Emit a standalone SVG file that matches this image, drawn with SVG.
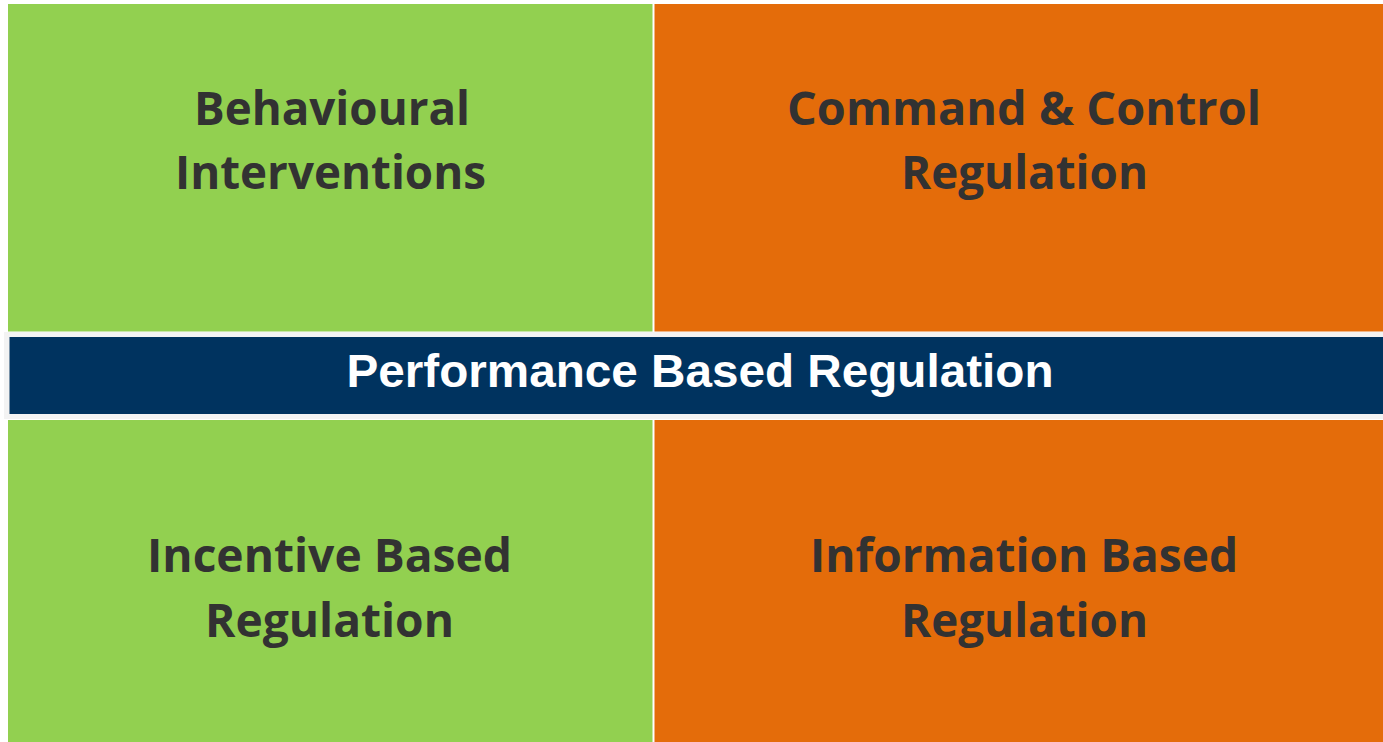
<svg xmlns="http://www.w3.org/2000/svg" width="1383" height="742" viewBox="0 0 1383 742">
<style>
.green{fill:#92D050}
.orange{fill:#E46C0A}
.q{font-family:"Open Sans","Noto Sans","DejaVu Sans",sans-serif;font-weight:700;font-size:47px;fill:#323232;text-anchor:middle}
.b{font-family:"Liberation Sans",Arial,sans-serif;font-weight:700;font-size:46px;fill:#ffffff;text-anchor:middle}
</style>
<rect width="1383" height="742" fill="#ffffff"/>
<g id="behavioural">
<rect class="green" x="8" y="4" width="644.5" height="327.5"/>
<text class="q" x="332" y="125" textLength="276" lengthAdjust="spacingAndGlyphs">Behavioural</text>
<text class="q" x="330.5" y="189" textLength="311" lengthAdjust="spacingAndGlyphs">Interventions</text>
</g>
<g id="command">
<rect class="orange" x="654.5" y="4" width="728.5" height="327.5"/>
<text class="q" x="1024" y="125" textLength="474" lengthAdjust="spacingAndGlyphs">Command &amp; Control</text>
<text class="q" x="1024.5" y="189" textLength="247" lengthAdjust="spacingAndGlyphs">Regulation</text>
</g>
<g id="performance">
<rect x="4" y="332" width="1379" height="87" fill="#f3f3f3"/>
<rect x="9.5" y="337" width="1373.5" height="77" fill="#00335F"/>
<text class="b" x="700" y="387" textLength="707" lengthAdjust="spacingAndGlyphs">Performance Based Regulation</text>
</g>
<g id="incentive">
<rect class="green" x="8" y="420" width="644.5" height="322"/>
<text class="q" x="329.5" y="572" textLength="365" lengthAdjust="spacingAndGlyphs">Incentive Based</text>
<text class="q" x="329.5" y="637" textLength="249" lengthAdjust="spacingAndGlyphs">Regulation</text>
</g>
<g id="information">
<rect class="orange" x="654.5" y="420" width="728.5" height="322"/>
<text class="q" x="1024" y="572" textLength="428" lengthAdjust="spacingAndGlyphs">Information Based</text>
<text class="q" x="1024.5" y="637" textLength="247" lengthAdjust="spacingAndGlyphs">Regulation</text>
</g>
<g id="connectors"/>
</svg>
